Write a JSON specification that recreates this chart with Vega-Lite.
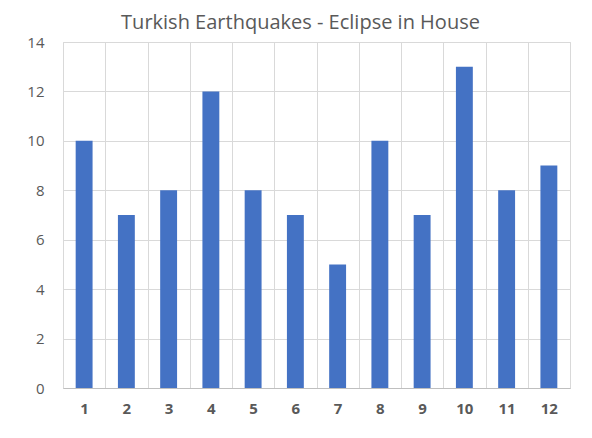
{
  "$schema": "https://vega.github.io/schema/vega-lite/v6.json",
  "width": 507,
  "height": 346,
  "autosize": {"type": "none"},
  "padding": {"left": 63, "top": 42, "right": 22, "bottom": 50},
  "background": "white",
  "title": {
    "text": "Turkish Earthquakes - Eclipse in House",
    "font": "Open Sans",
    "fontSize": 20,
    "fontWeight": "normal",
    "color": "#595959",
    "anchor": "middle",
    "dx": -16,
    "offset": 2
  },
  "data": {
    "values": [
      {"house": 1, "count": 10},
      {"house": 2, "count": 7},
      {"house": 3, "count": 8},
      {"house": 4, "count": 12},
      {"house": 5, "count": 8},
      {"house": 6, "count": 7},
      {"house": 7, "count": 5},
      {"house": 8, "count": 10},
      {"house": 9, "count": 7},
      {"house": 10, "count": 13},
      {"house": 11, "count": 8},
      {"house": 12, "count": 9}
    ]
  },
  "mark": {"type": "bar", "color": "#4472C4", "width": {"band": 0.4}},
  "encoding": {
    "x": {
      "field": "house",
      "type": "ordinal",
      "scale": {"paddingInner": 0, "paddingOuter": 0},
      "axis": {
        "title": null,
        "labelAngle": 0,
        "grid": true,
        "gridColor": "#d9d9d9",
        "tickBand": "extent",
        "ticks": false,
        "domainColor": "#bfbfbf",
        "labelFont": "Open Sans",
        "labelFontSize": 15,
        "labelFontWeight": "bold",
        "labelColor": "#595959",
        "labelPadding": 13
      }
    },
    "y": {
      "field": "count",
      "type": "quantitative",
      "scale": {"domain": [0, 14], "nice": false},
      "axis": {
        "title": null,
        "values": [0, 2, 4, 6, 8, 10, 12, 14],
        "grid": true,
        "gridColor": "#d9d9d9",
        "ticks": false,
        "domain": false,
        "labelFont": "Open Sans",
        "labelFontSize": 15,
        "labelColor": "#595959",
        "labelPadding": 19
      }
    }
  },
  "config": {
    "view": {"stroke": "#d9d9d9"}
  }
}
